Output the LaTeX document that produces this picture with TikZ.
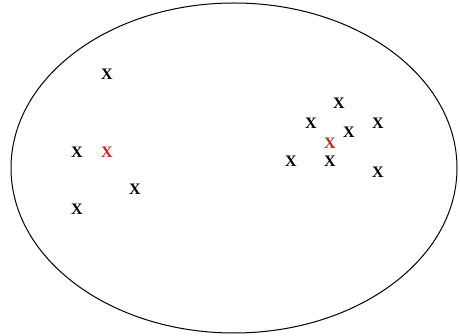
\documentclass[tikz,border=0pt]{standalone}
\usepackage{fontspec}
\setmainfont{Liberation Serif}
\begin{document}
\begin{tikzpicture}[x=1pt,y=-1pt,
  pt/.style={inner sep=0pt,font=\fontsize{16}{16}\selectfont\bfseries},
  ctr/.style={pt,text={rgb,255:red,210;green,30;blue,30}}]
\useasboundingbox (0,0) rectangle (460,336);
\draw[line width=1pt] (234,168) ellipse [x radius=223, y radius=165];
\node[pt] (a1) at (107,74) {X};
\node[pt] (a2) at (77,152) {X};
\node[ctr] (ca) at (107,152) {X};
\node[pt] (a3) at (135,189) {X};
\node[pt] (a4) at (77,209) {X};
\node[pt] (b1) at (339,103) {X};
\node[pt] (b2) at (311,123) {X};
\node[pt] (b3) at (378,123) {X};
\node[pt] (b4) at (349,132) {X};
\node[ctr] (cb) at (330,143) {X};
\node[pt] (b5) at (291,161) {X};
\node[pt] (b6) at (330,161) {X};
\node[pt] (b7) at (378,172) {X};
\end{tikzpicture}
\end{document}
